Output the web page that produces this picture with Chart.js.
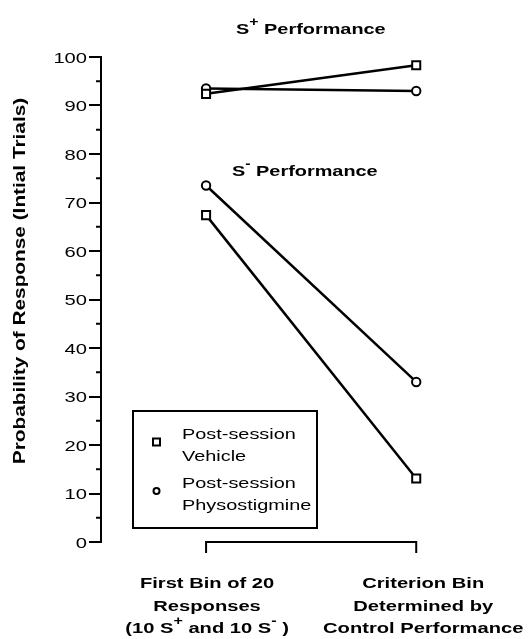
<!DOCTYPE html>
<html>
<head>
<meta charset="utf-8">
<script src="https://cdn.jsdelivr.net/npm/chart.js@4"></script>
<style>
  body { margin: 0; background: #fff; }
  canvas { display: block; }
</style>
</head>
<body>
<canvas id="chart" width="529" height="639"></canvas>
<script>
// x positions of the two bins
const binPositions = [0, 1];
const binLabels = [
  ["First Bin of 20", "Responses", "(10 S^+ and 10 S^- )"],
  ["Criterion Bin", "Determined by", "Control Performance"]
];

// S+ trials
const vehicleSPlus = [92.4, 98.3];
const physoSPlus = [93.5, 93.0];
// S- trials
const vehicleSMinus = [67.4, 13.1];
const physoSMinus = [73.5, 33.0];

const yTicks = [0, 10, 20, 30, 40, 50, 60, 70, 80, 90, 100];
const yMinorTicks = [5, 15, 25, 35, 45, 55, 65, 75, 85, 95];

const legendItems = [
  { style: "rect", lines: ["Post-session", "Vehicle"] },
  { style: "circle", lines: ["Post-session", "Physostigmine"] }
];

const FONT = '"Liberation Sans", Arial, Helvetica, sans-serif';
const SX = 1.3; // the scanned lettering is wider than it is tall

function parseRich(str) {
  const segs = [];
  const re = /\^(.)/g;
  let last = 0, m;
  while ((m = re.exec(str)) !== null) {
    if (m.index > last) segs.push({ t: str.slice(last, m.index), sup: false });
    segs.push({ t: m[1], sup: true });
    last = re.lastIndex;
  }
  if (last < str.length) segs.push({ t: str.slice(last), sup: false });
  return segs;
}

function drawRich(ctx, str, x, y, size, weight, align) {
  const segs = parseRich(str);
  ctx.save();
  ctx.translate(x, y);
  ctx.scale(SX, 1);
  ctx.fillStyle = "#000";
  ctx.textBaseline = "alphabetic";
  ctx.textAlign = "left";
  let total = 0;
  segs.forEach(s => {
    ctx.font = weight + " " + (s.sup ? size * 0.8 : size) + "px " + FONT;
    s.w = ctx.measureText(s.t).width;
    total += s.w;
  });
  let cx = align === "center" ? -total / 2 : align === "right" ? -total : 0;
  segs.forEach(s => {
    ctx.font = weight + " " + (s.sup ? size * 0.8 : size) + "px " + FONT;
    ctx.fillText(s.t, cx, s.sup ? -size * 0.5 : 0);
    cx += s.w;
  });
  ctx.restore();
}

function pts(values) {
  return values.map((v, i) => ({ x: binPositions[i], y: v }));
}

function series(label, values, style) {
  return {
    label: label,
    data: pts(values),
    borderColor: "#000",
    borderWidth: 2.5,
    pointStyle: style,
    pointRadius: style === "rect" ? 5.7 : 4.2,
    pointBackgroundColor: "#fff",
    pointBorderColor: "#000",
    pointBorderWidth: 2,
    tension: 0,
    fill: false
  };
}

const decorations = {
  id: "decorations",
  afterDraw(chart) {
    const ctx = chart.ctx;
    const xs = chart.scales.x;
    const ys = chart.scales.y;
    const area = chart.chartArea;

    ctx.save();
    ctx.strokeStyle = "#000";
    ctx.lineWidth = 2;

    // minor ticks
    yMinorTicks.forEach(v => {
      const py = ys.getPixelForValue(v);
      ctx.beginPath();
      ctx.moveTo(area.left - 5, py);
      ctx.lineTo(area.left, py);
      ctx.stroke();
    });

    // y tick labels
    yTicks.forEach(v => {
      drawRich(ctx, String(v), area.left - 14, ys.getPixelForValue(v) + 5.5, 15.5, "normal", "right");
    });

    // y axis title
    ctx.save();
    ctx.translate(25, 281);
    ctx.rotate(-Math.PI / 2);
    drawRich(ctx, "Probability of Response (Intial Trials)", 0, 0, 16, "bold", "center");
    ctx.restore();

    // x axis bracket between the bins
    const x0 = xs.getPixelForValue(binPositions[0]);
    const x1 = xs.getPixelForValue(binPositions[1]);
    const by = area.bottom;
    ctx.beginPath();
    ctx.moveTo(x0, by + 11);
    ctx.lineTo(x0, by);
    ctx.lineTo(x1, by);
    ctx.lineTo(x1, by + 11);
    ctx.stroke();

    // bin labels
    binLabels.forEach((lines, i) => {
      const px = xs.getPixelForValue(binPositions[i]) + (i === 1 ? 7 : 1);
      lines.forEach((ln, j) => {
        drawRich(ctx, ln, px, by + 46 + j * 22.5, 15.5, "bold", "center");
      });
    });

    // group labels
    drawRich(ctx, "S^+ Performance", 236, 34, 15.3, "bold", "left");
    drawRich(ctx, "S^- Performance", 232, 176, 15.3, "bold", "left");

    // legend box
    const lx = 133, ly = 411, lw = 184, lh = 117;
    ctx.strokeRect(lx, ly, lw, lh);
    legendItems.forEach((item, i) => {
      const my = ly + 31 + i * 49;
      ctx.lineWidth = 2;
      ctx.fillStyle = "#fff";
      ctx.beginPath();
      if (item.style === "rect") {
        ctx.rect(lx + 20, my - 3.5, 7, 7);
      } else {
        ctx.arc(lx + 23.5, my, 3, 0, Math.PI * 2);
      }
      ctx.fill();
      ctx.stroke();
      item.lines.forEach((ln, j) => {
        drawRich(ctx, ln, lx + 49, my - 3 + j * 22, 15.3, "normal", "left");
      });
    });
    ctx.restore();
  }
};

new Chart(document.getElementById("chart").getContext("2d"), {
  type: "line",
  data: {
    datasets: [
      series("Post-session Vehicle S+", vehicleSPlus, "rect"),
      series("Post-session Physostigmine S+", physoSPlus, "circle"),
      series("Post-session Vehicle S-", vehicleSMinus, "rect"),
      series("Post-session Physostigmine S-", physoSMinus, "circle")
    ]
  },
  options: {
    responsive: false,
    animation: false,
    devicePixelRatio: 1,
    layout: { padding: { left: 0, top: 57, right: 6, bottom: 97 } },
    plugins: {
      legend: { display: false },
      tooltip: { enabled: false }
    },
    scales: {
      x: { type: "linear", min: -0.5, max: 1.5, display: false },
      y: {
        min: 0,
        max: 100,
        ticks: { stepSize: 10, display: false },
        grid: { drawOnChartArea: false, tickLength: 12, color: "#000", lineWidth: 2 },
        border: { color: "#000", width: 2 },
        afterFit(scale) { scale.width = 101; }
      }
    }
  },
  plugins: [decorations]
});
</script>
</body>
</html>
